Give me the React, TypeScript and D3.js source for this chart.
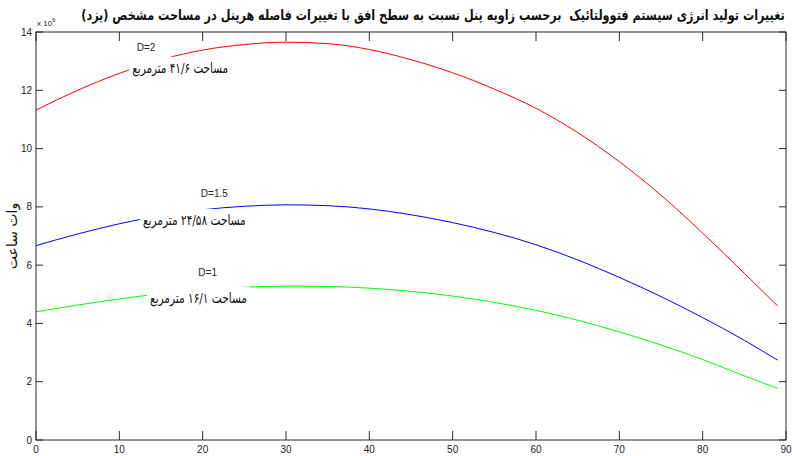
import React, { useEffect, useRef } from 'react';
import * as d3 from 'd3';

// panel tilt angle (degrees)
const angles = [0, 5, 10, 15, 20, 25, 30, 35, 40, 45, 50, 55, 60, 65, 70, 75, 80, 85, 89];

// energy output, x 10^6 Wh
const energyD2 = [11.32, 12.0, 12.58, 13.05, 13.38, 13.57, 13.65, 13.6, 13.4, 13.05, 12.6, 12.04, 11.38, 10.55, 9.55, 8.4, 7.1, 5.72, 4.6];
const energyD15 = [6.67, 7.07, 7.42, 7.7, 7.9, 8.02, 8.07, 8.04, 7.93, 7.73, 7.46, 7.12, 6.7, 6.18, 5.58, 4.92, 4.2, 3.42, 2.74];
const energyD1 = [4.4, 4.63, 4.84, 5.02, 5.15, 5.24, 5.28, 5.27, 5.21, 5.1, 4.94, 4.72, 4.45, 4.11, 3.71, 3.26, 2.76, 2.2, 1.77];

const spacingLabels = ['D=2', 'D=1.5', 'D=1'];
const areaLabels = ['مساحت ۴۱/۶ مترمربع', 'مساحت ۲۴/۵۸ مترمربع', 'مساحت ۱۶/۱ مترمربع'];

const xTicks = [0, 10, 20, 30, 40, 50, 60, 70, 80, 90];
const yTicks = [0, 2, 4, 6, 8, 10, 12, 14];

const title = 'تغییرات تولید انرژی سیستم فتوولتائیک  برحسب زاویه پنل نسبت به سطح افق با تغییرات فاصله هرپنل در مساحت مشخص (یزد)';
const yLabel = 'وات ساعت';

// shrink/grow font so the text spans the wanted width
function fitWidth(sel: d3.Selection<SVGTextElement, unknown, null, undefined>, size: number, width: number) {
    const node = sel.node();
    if (!node) return;
    const w = node.getComputedTextLength();
    if (w > 0) sel.attr('font-size', (size * width) / w);
}

const App: React.FC = () => {
    const svgRef = useRef<SVGSVGElement>(null);

    useEffect(() => {
        const W = 792, H = 456;
        const left = 36, right = 786, top = 32, bottom = 440;
        const axisColor = '#2b2b2b';
        const latin = '"Liberation Sans", Arial, sans-serif';
        const farsi = '"DejaVu Sans", sans-serif';

        const svg = d3.select(svgRef.current)
            .attr('width', W)
            .attr('height', H);
        svg.selectAll('*').remove();

        svg.append('rect').attr('width', W).attr('height', H).attr('fill', '#fff');

        const x = d3.scaleLinear().domain([0, 90]).range([left, right]);
        const y = d3.scaleLinear().domain([0, 14]).range([bottom, top]);

        const series = [
            { values: energyD2, color: '#ff0000' },
            { values: energyD15, color: '#0000ff' },
            { values: energyD1, color: '#00ff00' },
        ];

        const line = d3.line<number>()
            .x((d, i) => x(angles[i]))
            .y(d => y(d))
            .curve(d3.curveMonotoneX);

        series.forEach(s => {
            svg.append('path')
                .attr('d', line(s.values) || '')
                .attr('fill', 'none')
                .attr('stroke', s.color)
                .attr('stroke-width', 1);
        });

        // annotations (data coords)
        const notes = [
            { d: [13.2, 13.35], a: [17.3, 12.6], w: 96 },
            { d: [21.4, 8.34], a: [19.0, 7.38], w: 103 },
            { d: [20.6, 5.63], a: [19.5, 4.7], w: 97 },
        ];
        notes.forEach((n, i) => {
            svg.append('text')
                .attr('x', x(n.d[0]))
                .attr('y', y(n.d[1]))
                .attr('text-anchor', 'middle')
                .attr('font-family', latin)
                .attr('font-size', 10)
                .attr('fill', '#222')
                .text(spacingLabels[i]);

            const cx = x(n.a[0]), by = y(n.a[1]);
            svg.append('rect')
                .attr('x', cx - n.w / 2 - 3)
                .attr('y', by - 16)
                .attr('width', n.w + 6)
                .attr('height', 23)
                .attr('fill', '#fff');
            const t = svg.append('g')
                .attr('transform', `translate(${cx},${by}) scale(1,1.35)`)
                .append('text')
                .attr('text-anchor', 'middle')
                .attr('direction', 'rtl')
                .attr('font-family', farsi)
                .attr('font-size', 13)
                .attr('fill', '#111')
                .text(areaLabels[i]);
            fitWidth(t, 13, n.w);
        });

        // axes box
        const g = svg.append('g').attr('stroke', axisColor).attr('stroke-width', 1).attr('fill', 'none');
        g.append('rect')
            .attr('x', left).attr('y', top)
            .attr('width', right - left).attr('height', bottom - top);

        xTicks.forEach(t => {
            g.append('line').attr('x1', x(t)).attr('x2', x(t)).attr('y1', bottom).attr('y2', bottom - 9);
            g.append('line').attr('x1', x(t)).attr('x2', x(t)).attr('y1', top).attr('y2', top + 9);
        });
        yTicks.forEach(t => {
            g.append('line').attr('x1', left).attr('x2', left + 7).attr('y1', y(t)).attr('y2', y(t));
            g.append('line').attr('x1', right).attr('x2', right - 7).attr('y1', y(t)).attr('y2', y(t));
        });

        svg.append('g').selectAll('text')
            .data(xTicks)
            .enter().append('text')
            .attr('x', d => x(d))
            .attr('y', bottom + 13)
            .attr('text-anchor', 'middle')
            .attr('font-family', latin)
            .attr('font-size', 10)
            .attr('fill', '#222')
            .text(d => d);

        svg.append('g').selectAll('text')
            .data(yTicks)
            .enter().append('text')
            .attr('x', left - 4)
            .attr('y', d => y(d) + 3.5)
            .attr('text-anchor', 'end')
            .attr('font-family', latin)
            .attr('font-size', 10)
            .attr('fill', '#222')
            .text(d => d);

        // x 10^6 multiplier
        const mult = svg.append('text')
            .attr('x', left + 1)
            .attr('y', 26)
            .attr('font-family', latin)
            .attr('font-size', 8)
            .attr('fill', '#222');
        mult.append('tspan').text('x 10');
        mult.append('tspan').attr('dy', -4).attr('font-size', 6).text('6');

        const tt = svg.append('g')
            .attr('transform', 'translate(433,20) scale(1,1.3)')
            .append('text')
            .attr('text-anchor', 'middle')
            .attr('direction', 'rtl')
            .attr('font-family', farsi)
            .attr('font-weight', 'bold')
            .attr('font-size', 14)
            .attr('fill', '#111')
            .style('white-space', 'pre')
            .text(title);
        fitWidth(tt, 14, 704);

        svg.append('text')
            .attr('transform', `translate(17, 236) rotate(-90)`)
            .attr('text-anchor', 'middle')
            .attr('direction', 'rtl')
            .attr('font-family', farsi)
            .attr('font-size', 14)
            .attr('fill', '#111')
            .text(yLabel);
    }, []);

    return <svg ref={svgRef} style={{ position: 'absolute', left: 0, top: 0 }}></svg>;
};

export default App;
